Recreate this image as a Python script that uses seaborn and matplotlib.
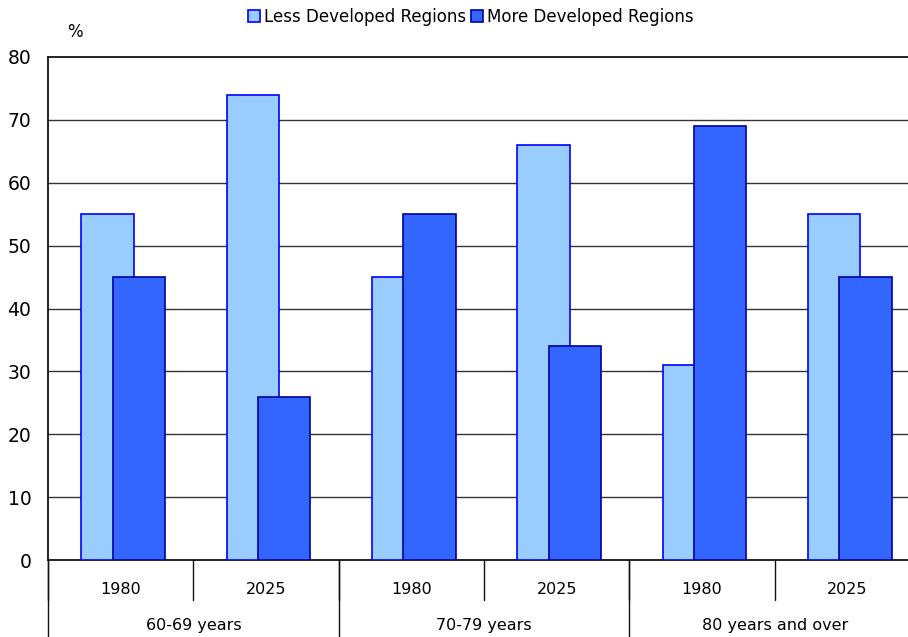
import matplotlib
matplotlib.use("Agg")
import matplotlib.pyplot as plt
from matplotlib.patches import Patch
import seaborn as sns
import pandas as pd
import numpy as np

groups = ["60-69 years", "70-79 years", "80 years and over"]
years = ["1980", "2025", "1980", "2025", "1980", "2025"]
less_developed = [55, 74, 45, 66, 31, 55]
more_developed = [45, 26, 55, 34, 69, 45]
series_names = ["Less Developed Regions", "More Developed Regions"]

light_color = "#99CCFF"
light_edge = "#0000FF"
dark_color = "#3366FF"
dark_edge = "#000099"

sns.set_theme(style="white")
plt.rcParams["font.family"] = ["DejaVu Sans"]

fig = plt.figure(figsize=(9.08, 6.37), dpi=100)
ax = fig.add_axes([48 / 908, 77 / 637, 872 / 908, 503 / 637])

idx = np.arange(len(years))
df_less = pd.DataFrame({"pos": idx - 0.09, "value": less_developed})
df_more = pd.DataFrame({"pos": idx + 0.125, "value": more_developed})

sns.barplot(data=df_less, x="pos", y="value", native_scale=True, orient="x",
            width=0.36, color=light_color, edgecolor=light_edge, linewidth=1.2,
            saturation=1, ax=ax, zorder=3)
sns.barplot(data=df_more, x="pos", y="value", native_scale=True, orient="x",
            width=0.36, color=dark_color, edgecolor=dark_edge, linewidth=1.2,
            saturation=1, ax=ax, zorder=4)

ax.set_xlim(-0.5, len(years) - 0.5)
ax.set_ylim(0, 80)
ax.set_yticks(range(0, 81, 10))
ax.set_yticklabels([str(v) for v in range(0, 81, 10)], fontsize=13.5, color="#000000")
ax.tick_params(axis="y", length=0, pad=12)
ax.set_xticks([])
ax.set_xlabel("")
ax.set_ylabel("")
for v in range(10, 80, 10):
    ax.axhline(v, color="#333333", linewidth=1, zorder=1)

for s in ["left", "top", "bottom"]:
    ax.spines[s].set_visible(True)
    ax.spines[s].set_color("#111111")
    ax.spines[s].set_linewidth(1.3)
ax.spines["right"].set_visible(False)

trans = ax.get_xaxis_transform()
# year dividers
for b in np.arange(-0.5, len(years) + 0.5, 1):
    ax.plot([b, b], [0, -0.0795], transform=trans, color="#111111",
            linewidth=1, clip_on=False)
# group dividers
for b in np.arange(-0.5, len(years) + 0.5, 2):
    ax.plot([b, b], [0, -0.16], transform=trans, color="#111111",
            linewidth=1, clip_on=False)
for i, y in enumerate(years):
    ax.text(i, -0.059, y, transform=trans, ha="center", va="center",
            fontsize=11.5, color="#000000")
for g, name in enumerate(groups):
    ax.text(2 * g + 0.5, -0.13, name, transform=trans, ha="center",
            va="center", fontsize=11.5, color="#000000")

fig.text(75 / 908, 1 - 32 / 637, "%", ha="center", va="center",
         fontsize=12, color="#000000")

handles = [Patch(facecolor=light_color, edgecolor=light_edge, linewidth=1.2),
           Patch(facecolor=dark_color, edgecolor=dark_edge, linewidth=1.2)]
fig.legend(handles, series_names, loc="center", bbox_to_anchor=(471 / 908, 1 - 17 / 637),
           ncol=2, frameon=False, fontsize=12, handlelength=0.7,
           handleheight=0.7, handletextpad=0.25, columnspacing=0.3,
           labelcolor="#000000")

fig.savefig("out.png", dpi=100)
